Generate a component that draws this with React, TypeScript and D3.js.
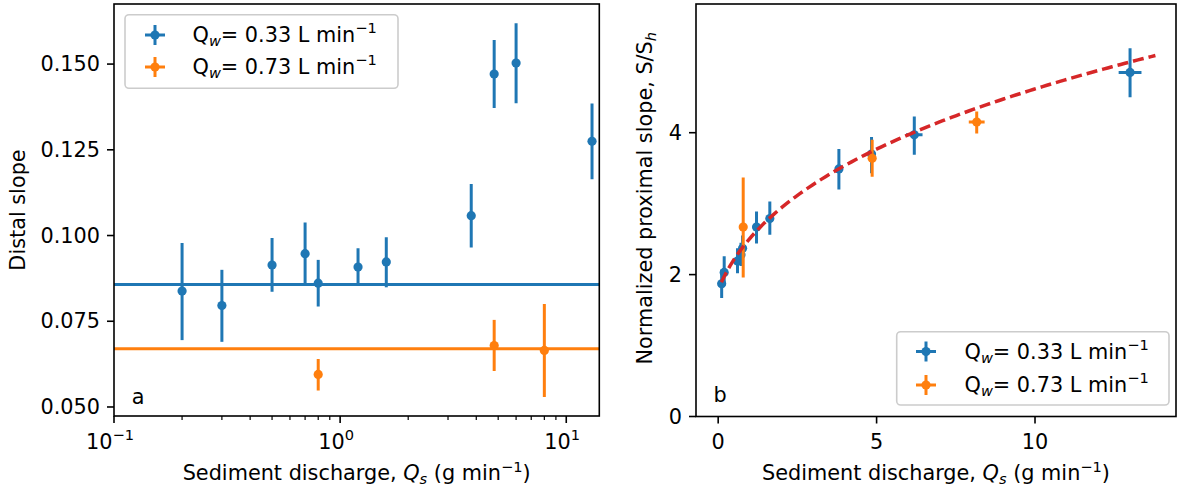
import React from 'react';
import * as d3 from 'd3';

// ---------- Panel a data (distal slope vs sediment discharge) ----------
const blueQsA = [0.2, 0.3, 0.5, 0.7, 0.8, 1.2, 1.6, 3.8, 4.8, 6.0, 13.0];
const blueSlopeA = [0.0838, 0.0796, 0.0914, 0.0947, 0.0861, 0.0908, 0.0923, 0.1058, 0.1471, 0.1503, 0.1275];
const blueLoA = [0.0695, 0.069, 0.0836, 0.0855, 0.0793, 0.0853, 0.0849, 0.0965, 0.1372, 0.1386, 0.1164];
const blueHiA = [0.0978, 0.090, 0.0993, 0.1038, 0.0929, 0.0963, 0.0995, 0.1150, 0.1570, 0.1619, 0.1385];
const orangeQsA = [0.8, 4.8, 8.0];
const orangeSlopeA = [0.0595, 0.0679, 0.0665];
const orangeLoA = [0.0548, 0.0605, 0.0529];
const orangeHiA = [0.064, 0.0754, 0.080];
const blueMeanA = 0.0857;
const orangeMeanA = 0.067;
const yTicksA = [0.05, 0.075, 0.1, 0.125, 0.15];
const xTicksA = [0.1, 1, 10];
const xTickExpA = ['\u22121', '0', '1'];

// ---------- Panel b data (normalized proximal slope) ----------
const blueQsB = [0.11, 0.19, 0.61, 0.72, 0.77, 1.21, 1.63, 3.81, 4.84, 6.19, 13.0];
const blueRatioB = [1.87, 2.03, 2.19, 2.28, 2.37, 2.67, 2.79, 3.49, 3.70, 3.97, 4.85];
const blueLoB = [1.67, 1.85, 2.02, 2.12, 2.20, 2.44, 2.56, 3.20, 3.43, 3.69, 4.50];
const blueHiB = [2.07, 2.26, 2.37, 2.45, 2.55, 2.89, 3.03, 3.77, 3.94, 4.23, 5.19];
const blueXErrB = [0, 0, 0, 0, 0, 0, 0, 0, 0, 0.26, 0.36];
const orangeQsB = [0.79, 4.86, 8.16];
const orangeRatioB = [2.67, 3.64, 4.15];
const orangeLoB = [1.96, 3.38, 3.99];
const orangeHiB = [3.37, 3.90, 4.30];
const orangeXErrB = [0, 0, 0.25];
// fitted curve S/Sh = a * (Qs + c)^b
const fitA = 2.2;
const fitC = 0.52;
const fitB = 0.315;
const fitRange = [0.1, 13.8];
const xTicksB = [0, 5, 10];
const yTicksB = [0, 2, 4];

const legendLabels = ['0.33', '0.73'];

const BLUE = '#1f77b4';
const ORANGE = '#ff7f0e';
const RED = '#d62728';
const FONT = 'DejaVu Sans, sans-serif';
const FS = 20.8;
const FSS = 14.6;

const A = { x0: 114, x1: 599.3, y0: 4, y1: 416 };
const B = { x0: 696, x1: 1176, y0: 4, y1: 416.5 };

const xA = d3.scaleLog().domain([0.1, 14]).range([A.x0, A.x1]);
const yA = d3.scaleLinear().domain([0.04737, 0.16752]).range([A.y1, A.y0]);
const xB = d3.scaleLinear().domain([-0.7, 14.45]).range([B.x0, B.x1]);
const yB = d3.scaleLinear().domain([0, 5.814]).range([B.y1, B.y0]);

function ErrPoint({ cx, cy, ylo, yhi, xlo, xhi, color }: any) {
  return (
    <g>
      <line x1={cx} x2={cx} y1={ylo} y2={yhi} stroke={color} strokeWidth={3} />
      {xlo !== undefined && Math.abs(xhi - xlo) > 0.5 && (
        <line x1={xlo} x2={xhi} y1={cy} y2={cy} stroke={color} strokeWidth={3} />
      )}
      <circle cx={cx} cy={cy} r={4.6} fill={color} />
    </g>
  );
}

function QLabel({ x, y, val }: any) {
  return (
    <text x={x} y={y} fontFamily={FONT} fontSize={FS} dominantBaseline="central">
      Q
      <tspan fontStyle="italic" fontSize={FSS} dy={5}>w</tspan>
      <tspan dy={-5}>{`= ${val} L min`}</tspan>
      <tspan fontSize={FSS} dy={-8}>{'\u22121'}</tspan>
    </text>
  );
}

function Legend({ x, y, w, h, rows, mx, tx }: any) {
  return (
    <g>
      <rect x={x} y={y} width={w} height={h} rx={4} fill="white" fillOpacity={0.8} stroke="#cccccc" strokeWidth={1.6} />
      {rows.map((r: any, i: number) => (
        <g key={i}>
          <line x1={mx} x2={mx} y1={r.y - 10} y2={r.y + 10} stroke={r.color} strokeWidth={3} />
          <line x1={mx - 10} x2={mx + 10} y1={r.y} y2={r.y} stroke={r.color} strokeWidth={3} />
          <circle cx={mx} cy={r.y} r={4.6} fill={r.color} />
          <QLabel x={tx} y={r.y} val={r.label} />
        </g>
      ))}
    </g>
  );
}

function XLabel({ cx, y }: any) {
  return (
    <text x={cx} y={y} fontFamily={FONT} fontSize={FS} textAnchor="middle">
      Sediment discharge,{' '}
      <tspan fontStyle="italic">Q</tspan>
      <tspan fontStyle="italic" fontSize={FSS} dy={4}>s</tspan>
      <tspan dy={-4}> (g min</tspan>
      <tspan fontSize={FSS} dy={-8}>{'\u22121'}</tspan>
      <tspan dy={8}>)</tspan>
    </text>
  );
}

export default function App() {
  const minorA: number[] = [];
  [0.1, 1, 10].forEach((d) => {
    for (let k = 2; k <= 9; k++) {
      const v = k * d;
      if (v > 0.1 && v <= 14) minorA.push(v);
    }
  });

  const fitLine = d3
    .line<number>()
    .x((q) => xB(q))
    .y((q) => yB(fitA * Math.pow(q + fitC, fitB)));
  const fitPts = d3.range(0, 101).map((i) => fitRange[0] + (i / 100) * (fitRange[1] - fitRange[0]));

  return (
    <svg width={1177} height={491} style={{ position: 'absolute', left: 0, top: 0, background: 'white' }}>
      <rect x={0} y={0} width={1177} height={491} fill="white" />
      <defs>
        <clipPath id="clipA">
          <rect x={A.x0} y={A.y0} width={A.x1 - A.x0} height={A.y1 - A.y0} />
        </clipPath>
        <clipPath id="clipB">
          <rect x={B.x0} y={B.y0} width={B.x1 - B.x0} height={B.y1 - B.y0} />
        </clipPath>
      </defs>
      {/* ================= Panel a ================= */}
      <g clipPath="url(#clipA)">
        {blueQsA.map((q, i) => (
          <ErrPoint key={'ba' + i} cx={xA(q)} cy={yA(blueSlopeA[i])} ylo={yA(blueLoA[i])} yhi={yA(blueHiA[i])} color={BLUE} />
        ))}
        {orangeQsA.map((q, i) => (
          <ErrPoint key={'oa' + i} cx={xA(q)} cy={yA(orangeSlopeA[i])} ylo={yA(orangeLoA[i])} yhi={yA(orangeHiA[i])} color={ORANGE} />
        ))}
        <line x1={A.x0} x2={A.x1} y1={yA(blueMeanA)} y2={yA(blueMeanA)} stroke={BLUE} strokeWidth={3} />
        <line x1={A.x0} x2={A.x1} y1={yA(orangeMeanA)} y2={yA(orangeMeanA)} stroke={ORANGE} strokeWidth={3} />
      </g>
      <text x={138} y={397} fontFamily={FONT} fontSize={FS} textAnchor="middle" dominantBaseline="central">a</text>
      <Legend
        x={125}
        y={14.7}
        w={273}
        h={73.6}
        mx={155}
        tx={192.5}
        rows={[
          { y: 35, color: BLUE, label: legendLabels[0] },
          { y: 67, color: ORANGE, label: legendLabels[1] },
        ]}
      />
      <rect x={A.x0} y={A.y0} width={A.x1 - A.x0} height={A.y1 - A.y0} fill="none" stroke="black" strokeWidth={1.6} />
      {yTicksA.map((t) => (
        <g key={'yta' + t}>
          <line x1={A.x0 - 7} x2={A.x0} y1={yA(t)} y2={yA(t)} stroke="black" strokeWidth={1.6} />
          <text x={A.x0 - 14} y={yA(t)} fontFamily={FONT} fontSize={FS} textAnchor="end" dominantBaseline="central">
            {t.toFixed(3)}
          </text>
        </g>
      ))}
      {minorA.map((t) => (
        <line key={'mna' + t} x1={xA(t)} x2={xA(t)} y1={A.y1} y2={A.y1 + 4} stroke="black" strokeWidth={1.2} />
      ))}
      {xTicksA.map((t, i) => (
        <g key={'xta' + t}>
          <line x1={xA(t)} x2={xA(t)} y1={A.y1} y2={A.y1 + 7} stroke="black" strokeWidth={1.6} />
          <text x={xA(t) - 4} y={449} fontFamily={FONT} fontSize={FS} textAnchor="middle">
            10
            <tspan fontSize={FSS} dy={-9}>{xTickExpA[i]}</tspan>
          </text>
        </g>
      ))}
      <XLabel cx={(A.x0 + A.x1) / 2} y={480} />
      <text
        transform={`translate(25, ${(A.y0 + A.y1) / 2}) rotate(-90)`}
        fontFamily={FONT}
        fontSize={FS}
        textAnchor="middle"
      >
        Distal slope
      </text>

      {/* ================= Panel b ================= */}
      <g clipPath="url(#clipB)">
        {blueQsB.map((q, i) => (
          <ErrPoint
            key={'bb' + i}
            cx={xB(q)}
            cy={yB(blueRatioB[i])}
            ylo={yB(blueLoB[i])}
            yhi={yB(blueHiB[i])}
            xlo={xB(q - blueXErrB[i])}
            xhi={xB(q + blueXErrB[i])}
            color={BLUE}
          />
        ))}
        {orangeQsB.map((q, i) => (
          <ErrPoint
            key={'ob' + i}
            cx={xB(q)}
            cy={yB(orangeRatioB[i])}
            ylo={yB(orangeLoB[i])}
            yhi={yB(orangeHiB[i])}
            xlo={xB(q - orangeXErrB[i])}
            xhi={xB(q + orangeXErrB[i])}
            color={ORANGE}
          />
        ))}
        <path d={fitLine(fitPts) || ''} fill="none" stroke={RED} strokeWidth={3.5} strokeDasharray="11,5" />
      </g>
      <text x={720} y={395} fontFamily={FONT} fontSize={FS} textAnchor="middle" dominantBaseline="central">b</text>
      <Legend
        x={896.7}
        y={331.7}
        w={272.3}
        h={73.3}
        mx={926}
        tx={964.5}
        rows={[
          { y: 351.5, color: BLUE, label: legendLabels[0] },
          { y: 385, color: ORANGE, label: legendLabels[1] },
        ]}
      />
      <rect x={B.x0} y={B.y0} width={B.x1 - B.x0} height={B.y1 - B.y0} fill="none" stroke="black" strokeWidth={1.6} />
      {yTicksB.map((t) => (
        <g key={'ytb' + t}>
          <line x1={B.x0 - 7} x2={B.x0} y1={yB(t)} y2={yB(t)} stroke="black" strokeWidth={1.6} />
          <text x={B.x0 - 14} y={yB(t)} fontFamily={FONT} fontSize={FS} textAnchor="end" dominantBaseline="central">
            {t}
          </text>
        </g>
      ))}
      {xTicksB.map((t) => (
        <g key={'xtb' + t}>
          <line x1={xB(t)} x2={xB(t)} y1={B.y1} y2={B.y1 + 7} stroke="black" strokeWidth={1.6} />
          <text x={xB(t)} y={449} fontFamily={FONT} fontSize={FS} textAnchor="middle">
            {t}
          </text>
        </g>
      ))}
      <XLabel cx={(B.x0 + B.x1) / 2} y={480} />
      <text
        transform={`translate(652, ${(B.y0 + B.y1) / 2 - 12}) rotate(-90)`}
        fontFamily={FONT}
        fontSize={FS}
        textAnchor="middle"
      >
        Normalized proximal slope, S/S
        <tspan fontStyle="italic" fontSize={FSS} dy={4}>h</tspan>
      </text>
    </svg>
  );
}
